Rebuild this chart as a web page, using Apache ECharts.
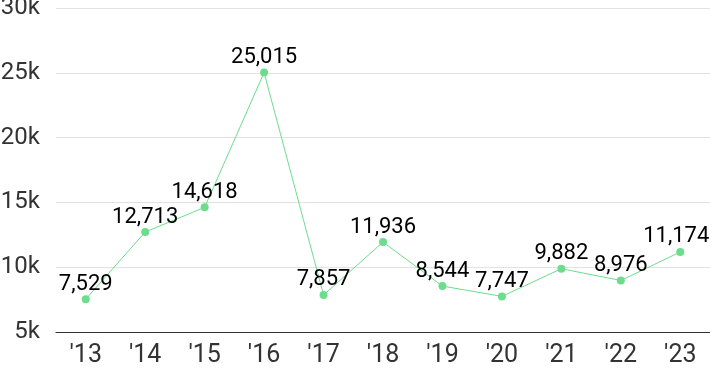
<!DOCTYPE html>
<html><head><meta charset="utf-8">
<script src="https://cdn.jsdelivr.net/npm/echarts@6/dist/echarts.min.js"></script>
<style>html,body{margin:0;padding:0;background:#fff}#c{width:710px;height:371px}</style>
</head><body><div id="c"></div>
<script>
const categories = ["'13","'14","'15","'16","'17","'18","'19","'20","'21","'22","'23"];
const values = [7529,12713,14618,25015,7857,11936,8544,7747,9882,8976,11174];
const yTicks = {min:5000,max:30000,interval:5000};

const seriesData = values.map((v, i) => i === values.length - 1
  ? {value: v, label: {offset: [-4, 0]}}
  : v);

const chart = echarts.init(document.getElementById('c'));
chart.setOption({
  animation:false,
  grid:{left:56,right:0,top:8,bottom:39,containLabel:false,outerBoundsMode:'none'},
  xAxis:{type:'category',data:categories,boundaryGap:true,
    axisLine:{lineStyle:{color:'#333',width:1}},axisTick:{show:false},
    axisLabel:{color:'#333',fontSize:25,fontFamily:'Roboto',margin:11}},
  yAxis:{type:'value',min:yTicks.min,max:yTicks.max,interval:yTicks.interval,
    axisLine:{show:false},axisTick:{show:false},
    splitLine:{lineStyle:{color:'#e2e2e2',width:1}},
    axisLabel:{color:'#333',fontSize:24,fontFamily:'Roboto',margin:16,
      formatter:v=>(v/1000)+'k'}},
  series:[{type:'line',data:seriesData,symbol:'circle',symbolSize:8,
    itemStyle:{color:'#6ddc8c'},lineStyle:{color:'#6ddc8c',width:1},
    label:{show:true,position:'top',distance:0,color:'#000',fontSize:22,fontFamily:'Roboto',
      formatter:p=>p.value.toLocaleString('en-US')}}]
});
</script></body></html>
